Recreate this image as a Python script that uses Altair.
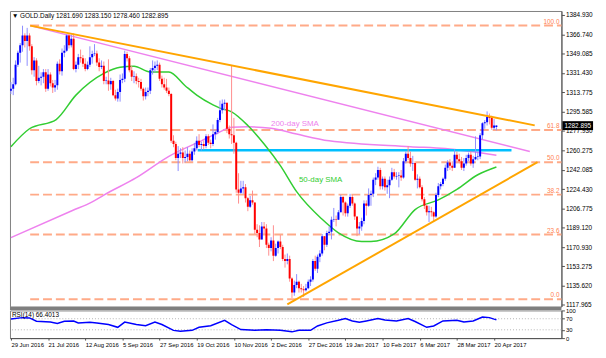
import altair as alt
import pandas as pd

FONT = "Liberation Sans"
W, H_MAIN, H_RSI = 558, 299, 28

# ---------------- data ----------------
date_ticks = [0, 16, 32, 48, 64, 80, 96, 112, 128, 144, 160, 176, 192, 208]
date_labels = ["29 Jun 2016", "21 Jul 2016", "12 Aug 2016", "5 Sep 2016", "27 Sep 2016",
               "19 Oct 2016", "10 Nov 2016", "2 Dec 2016", "27 Dec 2016", "19 Jan 2017",
               "10 Feb 2017", "6 Mar 2017", "28 Mar 2017", "20 Apr 2017"]
price_ticks = [1117.965, 1135.620, 1153.275, 1170.930, 1189.120, 1206.775, 1224.430, 1242.085,
               1260.275, 1277.930, 1295.585, 1313.775, 1331.430, 1349.085, 1366.740, 1384.930]

first_open = 1315
last_bar = [1281.690, 1283.150, 1278.460, 1282.895]  # O H L C shown in header

close = [1317, 1321, 1339, 1350, 1357, 1366, 1361, 1366, 1356, 1334,
         1343, 1324, 1327, 1328, 1332, 1317, 1330, 1322, 1318, 1320,
         1340, 1333, 1350, 1352, 1366, 1357, 1363, 1335, 1339, 1346,
         1345, 1340, 1335, 1339, 1346, 1349, 1349.5, 1341, 1337, 1338,
         1324, 1324.5, 1321, 1324, 1311, 1308, 1314, 1325, 1326, 1349,
         1345, 1334, 1328, 1328.5, 1324, 1323, 1317, 1310, 1314, 1315,
         1334, 1336, 1338, 1339, 1326, 1321, 1318, 1315, 1312, 1269,
         1266, 1253, 1257, 1258, 1253, 1254, 1257, 1251, 1259, 1262,
         1269, 1265, 1266, 1264, 1273, 1267, 1266, 1275, 1277, 1288,
         1297, 1303, 1304, 1280, 1275, 1274, 1267, 1224, 1221, 1225,
         1226, 1216, 1208, 1214, 1212, 1187, 1184, 1178, 1190, 1188,
         1173, 1170, 1177, 1163, 1170, 1176, 1171, 1160, 1158, 1160,
         1142, 1129, 1136, 1139, 1133, 1132, 1131, 1133, 1139, 1141,
         1158, 1151, 1162, 1165, 1181, 1173, 1184, 1185, 1196, 1196.5,
         1196, 1203, 1217, 1212, 1202, 1209, 1217, 1211, 1199, 1188,
         1190, 1195, 1211, 1209, 1219, 1220, 1233, 1235, 1242, 1227,
         1234, 1226, 1228, 1233, 1240, 1236, 1236.5, 1237, 1235, 1250,
         1257, 1253, 1248, 1248.5, 1233, 1234, 1226, 1215, 1209, 1203,
         1204, 1203, 1199, 1219, 1227, 1229, 1234, 1244, 1249, 1246,
         1244, 1256, 1252, 1250, 1244, 1248, 1253, 1256, 1248, 1252,
         1254, 1254.5, 1274, 1285, 1286, 1291, 1290, 1281, 1283, 1282.895]

high = [1323, 1327, 1343, 1352, 1359, 1375, 1368, 1373, 1368, 1358,
        1346, 1345, 1338, 1332, 1335, 1335, 1335, 1332, 1325, 1325,
        1342, 1344, 1354, 1357, 1367, 1368, 1367, 1368, 1342, 1349,
        1353, 1348, 1345, 1342, 1356, 1352, 1358, 1352, 1345, 1343,
        1342, 1328, 1344, 1327, 1325, 1316, 1317, 1330, 1331, 1352,
        1351, 1347, 1338, 1333, 1331, 1327, 1326, 1318, 1318, 1318,
        1336, 1343, 1342, 1343, 1341, 1329, 1327, 1326, 1318, 1313,
        1274, 1268, 1264, 1262, 1263, 1260, 1263, 1260, 1262, 1267,
        1273, 1275, 1268, 1269, 1275, 1275, 1270, 1284, 1279, 1290,
        1306, 1307, 1307, 1289, 1283, 1338, 1290, 1268, 1239, 1232,
        1232, 1229, 1217, 1218, 1223, 1212, 1192, 1191, 1194, 1194,
        1192, 1175, 1180, 1191, 1174, 1177, 1182, 1173, 1164, 1165,
        1163, 1143, 1140, 1146, 1140, 1137, 1135, 1137, 1141, 1144,
        1160, 1163, 1164, 1168, 1183, 1181, 1186, 1190, 1199, 1207,
        1200, 1205, 1219, 1218, 1213, 1211, 1220, 1219, 1212, 1199,
        1194, 1198, 1214, 1214, 1225, 1223, 1235, 1239, 1245, 1244,
        1236, 1236, 1233, 1236, 1244, 1243, 1240, 1240, 1242, 1253,
        1259, 1264, 1259, 1255, 1250, 1238, 1236, 1228, 1217, 1210,
        1209, 1208, 1204, 1221, 1230, 1231, 1235, 1247, 1251, 1252,
        1250, 1261, 1259, 1257, 1254, 1253, 1256, 1258, 1259, 1255,
        1273, 1259, 1276, 1286, 1288, 1296, 1294, 1292, 1289, 1283.15]

low = [1312, 1311, 1320, 1337, 1341, 1351, 1355, 1338, 1352, 1330,
       1328, 1320, 1322, 1320, 1322, 1314, 1315, 1319, 1313, 1314,
       1316, 1330, 1329, 1346, 1351, 1354, 1355, 1334, 1332, 1335,
       1341, 1337, 1333, 1334, 1337, 1340, 1347, 1338, 1333, 1335,
       1321, 1321, 1315, 1316, 1310, 1306, 1305, 1305, 1322, 1323,
       1342, 1332, 1324, 1322, 1321, 1318, 1315, 1306, 1307, 1310,
       1312, 1330, 1332, 1334, 1324, 1318, 1316, 1313, 1310, 1267,
       1263, 1251, 1241, 1253, 1248, 1249, 1250, 1250, 1250, 1256,
       1260, 1263, 1260, 1261, 1262, 1265, 1262, 1264, 1270, 1275,
       1286, 1294, 1297, 1276, 1271, 1266, 1257, 1221, 1211, 1220,
       1220, 1212, 1204, 1207, 1210, 1183, 1180, 1171, 1178, 1183,
       1170, 1163, 1167, 1158, 1162, 1165, 1169, 1158, 1152, 1155,
       1139, 1124, 1126, 1133, 1129, 1129, 1125, 1130, 1132, 1135,
       1139, 1149, 1147, 1157, 1163, 1168, 1171, 1182, 1178, 1194,
       1190, 1196, 1203, 1200, 1199, 1199, 1207, 1209, 1196, 1181,
       1183, 1186, 1192, 1200, 1208, 1209, 1217, 1228, 1233, 1224,
       1224, 1223, 1220, 1216, 1232, 1234, 1233, 1226, 1232, 1234,
       1248, 1251, 1245, 1241, 1232, 1225, 1225, 1213, 1206, 1200,
       1194, 1199, 1195, 1198, 1217, 1224, 1227, 1232, 1241, 1242,
       1241, 1244, 1248, 1248, 1242, 1241, 1246, 1250, 1246, 1244,
       1251, 1251, 1252, 1270, 1280, 1283, 1284, 1279, 1279, 1278.46]

sma50_idx = [0, 8, 19.5, 28, 40, 47, 53, 60, 68, 75, 80, 87, 90, 95, 102, 109, 116, 123,
             134, 141, 151, 155, 165, 174, 184, 192, 201, 209]
sma50_val = [1263.5, 1280, 1288.5, 1311, 1331, 1336.7, 1337.6, 1332.3, 1332.3, 1319.7, 1311,
             1302, 1299, 1295.6, 1283, 1266, 1246, 1222, 1196.5, 1184, 1176, 1176, 1183,
             1205.5, 1214.4, 1224.2, 1237.6, 1244.8]

sma200_idx = [0, 26.5, 35, 40, 54, 68, 82, 89, 95, 102, 112, 123, 137, 172, 187, 209]
sma200_val = [1179.6, 1204.6, 1212.6, 1218.9, 1234.9, 1254.6, 1268.9, 1276, 1281.4, 1281.8,
              1280.5, 1275.1, 1268.9, 1263.5, 1261.7, 1255.5]

rsi_idx = [0, 5, 8, 11, 17, 20, 23, 27, 29, 34, 37, 42, 46, 49, 54, 58, 62, 65, 70, 73, 78,
           81, 86, 92, 95, 99, 105, 110, 116, 121, 124, 129, 132, 136, 141, 144, 147, 150,
           153, 158, 161, 166, 171, 174, 179, 182, 186, 192, 195, 199, 203, 206, 208, 209]
rsi_val = [68.7, 74, 73, 61, 58, 52.6, 61, 62, 55, 57, 55, 49, 39, 58, 49, 45, 58, 49, 28, 25,
           28, 39, 45, 64.5, 49, 31, 28, 30, 28, 22.6, 28, 28, 44, 55, 64.5, 71, 62, 57, 62,
           71, 65.5, 62, 71, 60, 39, 44, 62, 64.5, 58, 62, 76, 74, 68.7, 66.4]

fib_low, fib_high = 1122.9, 1375.2
fib_levels = [0.0, 23.6, 38.2, 50.0, 61.8, 100.0]

# trendlines: [x0, price0, x1, price1]
resistance = [8.3, 1375.1, 225.5, 1283.1]
pink_trend = [8.3, 1375.1, 223.4, 1259.0]
support = [119.0, 1118.0, 226.7, 1249.2]
blue_level = [80.4, 1260.2, 215.5]

# ---------------- frames ----------------
n = len(close)
opens = [first_open] + close[:-1]
opens[-1] = last_bar[0]
rows = []
for i in range(n):
    o, c = opens[i], close[i]
    up = c >= o
    c2 = c if abs(c - o) >= 0.5 else (o + 0.5 if up else o - 0.5)
    rows.append(dict(i=i, o=o, c=c2, h=max(high[i], o, c), l=min(low[i], o, c),
                     d="up" if up else "down"))
cdf = pd.DataFrame(rows)

fib = pd.DataFrame({"p": [fib_low + lv / 100 * (fib_high - fib_low) for lv in fib_levels],
                    "lab": [f"{lv:.1f}" for lv in fib_levels]})
fib["x0"] = 8.3
fib["x1"] = 240

k = (H_MAIN - 6) / (1384.930 - 1117.965)
ys = alt.Scale(domain=[1117.965 - 2 / k, 1384.930 + 4 / k], nice=False, zero=False)
xs = alt.Scale(domain=[-0.4, 237.0], nice=False, zero=False)
yaxis = alt.Axis(orient="right", values=price_ticks, format=".3f", grid=False, tickSize=3,
                 labelPadding=1, labelFontSize=6.5, labelOverlap=False, labelFlush=False,
                 title=None)


def X(f):
    return alt.X(f"{f}:Q", scale=xs, axis=None, title=None)


def Y(f):
    return alt.Y(f"{f}:Q", scale=ys, axis=yaxis, title=None)


def seg(vals, color, width):
    d = pd.DataFrame({"x0": [vals[0]], "y0": [vals[1]], "x1": [vals[2]], "y1": [vals[3]]})
    return alt.Chart(d).mark_rule(color=color, strokeWidth=width, clip=True).encode(
        x=X("x0"), x2="x1", y=Y("y0"), y2="y1")


fib_rule = alt.Chart(fib).mark_rule(color="#FFAA88", strokeWidth=2, strokeDash=[9, 4],
                                    clip=True).encode(x=X("x0"), x2="x1", y=Y("p"))
fib_text = alt.Chart(fib).mark_text(align="right", baseline="bottom", dx=-2, dy=-1,
                                    fontSize=6.5, color="#FF7F50", font=FONT).encode(
    x=alt.value(W), y=Y("p"), text="lab:N")

sma200 = alt.Chart(pd.DataFrame({"i": sma200_idx, "v": sma200_val})).mark_line(
    color="#EE82EE", strokeWidth=1.5, clip=True, interpolate="monotone").encode(
    x=X("i"), y=Y("v"))
sma50 = alt.Chart(pd.DataFrame({"i": sma50_idx, "v": sma50_val})).mark_line(
    color="#32CD32", strokeWidth=1.5, clip=True, interpolate="monotone").encode(
    x=X("i"), y=Y("v"))

blue = alt.Chart(pd.DataFrame({"x0": [blue_level[0]], "x1": [blue_level[2]],
                               "p": [blue_level[1]]})).mark_rule(
    color="#00BFFF", strokeWidth=2.5, clip=True).encode(x=X("x0"), x2="x1", y=Y("p"))

wick = alt.Chart(cdf).mark_rule(strokeWidth=1, clip=True).encode(
    x=X("i"), y=Y("l"), y2="h",
    color=alt.condition("datum.d == 'up'", alt.value("#8C8CFF"), alt.value("#FF8C8C")))
body = alt.Chart(cdf).mark_rule(strokeWidth=2, clip=True).encode(
    x=X("i"), y=Y("o"), y2="c",
    color=alt.condition("datum.d == 'up'", alt.value("#0000FF"), alt.value("#FF0000")))

lab200 = alt.Chart(pd.DataFrame({"i": [112], "p": [1284], "t": ["200-day SMA"]})).mark_text(
    align="left", baseline="middle", fontSize=8, color="#EE82EE", font=FONT).encode(
    x=X("i"), y=Y("p"), text="t:N")
lab50 = alt.Chart(pd.DataFrame({"i": [124], "p": [1233], "t": ["50-day SMA"]})).mark_text(
    align="left", baseline="middle", fontSize=8, color="#32CD32", font=FONT).encode(
    x=X("i"), y=Y("p"), text="t:N")

header_txt = "\u25BC GOLD.Daily  " + "  ".join(f"{v:.3f}" for v in last_bar)
header = alt.Chart(pd.DataFrame({"t": [header_txt]})).mark_text(
    align="left", baseline="middle", fontSize=6.5, font=FONT, color="black").encode(
    x=alt.value(2), y=alt.value(5), text="t:N")

pdf = pd.DataFrame({"p": [last_bar[3]], "t": [f"{last_bar[3]:.3f}"]})
pbox = alt.Chart(pdf).mark_rule(color="black", strokeWidth=9).encode(
    x=alt.value(W + 1), x2=alt.value(W + 32), y=Y("p"))
ptxt = alt.Chart(pdf).mark_text(align="left", baseline="middle", fontSize=6.5, font=FONT,
                                color="white").encode(x=alt.value(W + 3), y=Y("p"), text="t:N")

sep = alt.Chart(pd.DataFrame({"a": [0]})).mark_rule(color="#7F7F7F", strokeWidth=3).encode(
    x=alt.value(0), x2=alt.value(W), y=alt.value(H_MAIN + 2))

main = alt.layer(fib_rule, fib_text, sma200, seg(pink_trend, "#EE82EE", 1.5), blue, sma50,
                 wick, body, seg(resistance, "#FFA500", 2), seg(support, "#FFA500", 2),
                 lab200, lab50, header, pbox, ptxt, sep).properties(width=W, height=H_MAIN)

# ---------------- RSI panel ----------------
rs = alt.Scale(domain=[0, 100], nice=False, zero=False)
rsi_yaxis = alt.Axis(orient="right", values=[0, 30, 70, 100], grid=False, tickSize=3,
                     labelPadding=1, labelFontSize=6, labelOverlap=False, title=None)
expr = "[" + ",".join(f"'{d}'" for d in date_labels) + "][round(datum.value / 16)]"
rsi_xaxis = alt.Axis(values=date_ticks, labelExpr=expr, labelAlign="left", labelPadding=1,
                     tickSize=2, labelFontSize=6, labelOverlap=False,
                     labelFlush=False, labelBound=False, grid=False, title=None)

lv = alt.Chart(pd.DataFrame({"v": [70, 30]})).mark_rule(
    color="#B4B4B4", strokeDash=[1, 2], strokeWidth=1).encode(
    y=alt.Y("v:Q", scale=rs, axis=rsi_yaxis, title=None))
rsi_line = alt.Chart(pd.DataFrame({"i": rsi_idx, "v": rsi_val})).mark_line(
    color="#0000FF", strokeWidth=1.5, clip=True).encode(
    x=alt.X("i:Q", scale=xs, axis=rsi_xaxis, title=None),
    y=alt.Y("v:Q", scale=rs, axis=rsi_yaxis, title=None))
rsi_lab = alt.Chart(pd.DataFrame({"t": ["RSI(14) 66.4013"]})).mark_text(
    align="left", baseline="middle", fontSize=6.5, font=FONT, color="black").encode(
    x=alt.value(2), y=alt.value(5), text="t:N")

rsi = alt.layer(lv, rsi_line, rsi_lab).properties(width=W, height=H_RSI)

chart = alt.vconcat(main, rsi, spacing=4, bounds="flush").properties(
    padding={"left": 0, "top": 0, "right": 0, "bottom": 0}
).configure_view(stroke="#808080", strokeWidth=1).configure_axis(
    domainColor="#505050", tickColor="#505050", labelColor="black", labelFont=FONT)

chart.save("out.html", embed_options={"renderer": "svg", "actions": False})
